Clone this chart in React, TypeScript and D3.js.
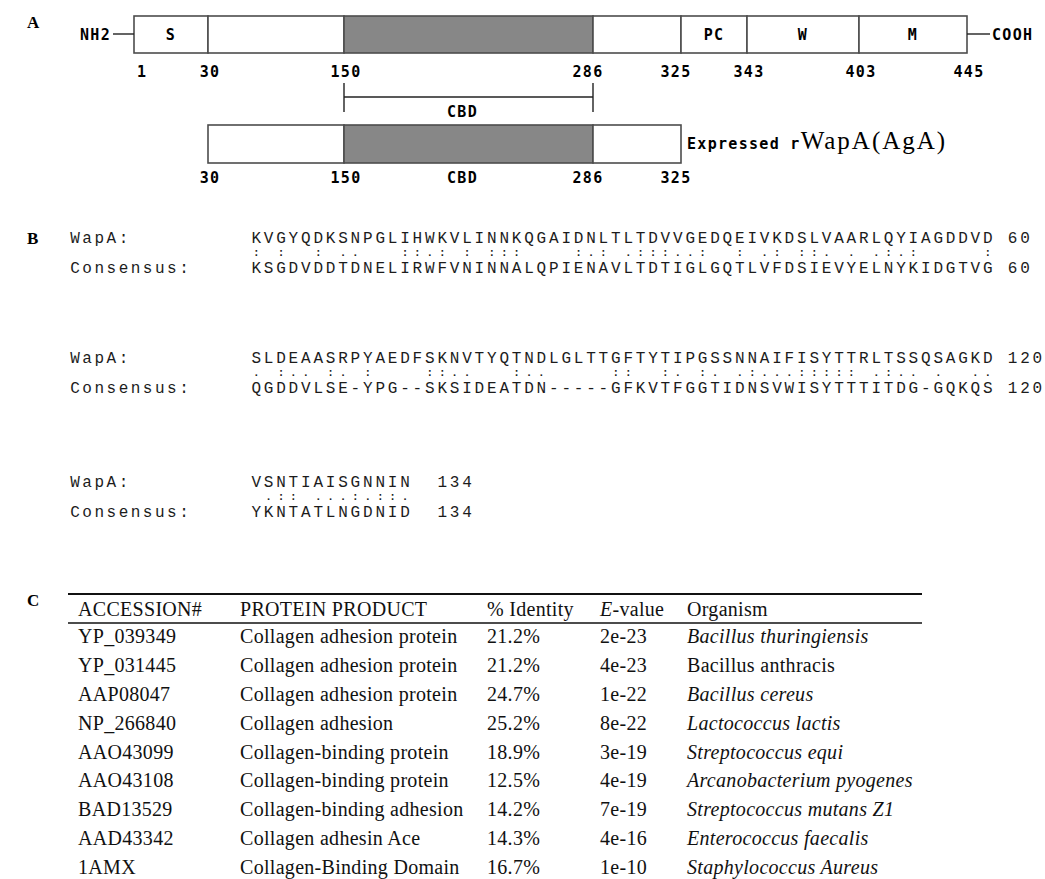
import { useEffect, useRef } from 'react'
import * as d3 from 'd3'

// ---- Panel A : domain map ----
const domainBreaks = [1, 30, 150, 286, 325, 343, 403, 445]
const segStart = [1, 30, 150, 286, 325, 343, 403]
const segEnd = [30, 150, 286, 325, 343, 403, 445]
const segLabel = ['S', '', '', '', 'PC', 'W', 'M']
const segShaded = [false, false, true, false, false, false, false]
const cbdRange = [150, 286]
const exprBreaks = [30, 150, 286, 325]

// ---- Panel B : alignment ----
const wapaRows = [
  'KVGYQDKSNPGLIHWKVLINNKQGAIDNLTLTDVVGEDQEIVKDSLVAARLQYIAGDDVD',
  'SLDEAASRPYAEDFSKNVTYQTNDLGLTTGFTYTIPGSSNNAIFISYTTRLTSSQSAGKD',
  'VSNTIAISGNNIN',
]
const matchRows = [
  ': :  : ..   ::.: : :::    :.: .:::..:  : .: ::. . .:.:     : ',
  '. :.. :. :    ::..   :..     ::  :. :. .:...::::: .:.. .  ..',
  ' .:: ...:.::.',
]
const consensusRows = [
  'KSGDVDDTDNELIRWFVNINNALQPIENAVLTDTIGLGQTLVFDSIEVYELNYKIDGTVG',
  'QGDDVLSE-YPG--SKSIDEATDN-----GFKVTFGGTIDNSVWISYTTTITDG-GQKQS',
  'YKNTATLNGDNID',
]
const rowEnds = [60, 120, 134]

// ---- Panel C : BLAST hits ----
const tableHeaders = ['ACCESSION#', 'PROTEIN PRODUCT', '% Identity', '-value', 'Organism']
const accessions = ['YP_039349', 'YP_031445', 'AAP08047', 'NP_266840', 'AAO43099', 'AAO43108', 'BAD13529', 'AAD43342', '1AMX']
const products = [
  'Collagen adhesion protein',
  'Collagen adhesion protein',
  'Collagen adhesion protein',
  'Collagen adhesion',
  'Collagen-binding protein',
  'Collagen-binding protein',
  'Collagen-binding adhesion',
  'Collagen adhesin Ace',
  'Collagen-Binding Domain',
]
const identities = ['21.2%', '21.2%', '24.7%', '25.2%', '18.9%', '12.5%', '14.2%', '14.3%', '16.7%']
const eValues = ['2e-23', '4e-23', '1e-22', '8e-22', '3e-19', '4e-19', '7e-19', '4e-16', '1e-10']
const organisms = [
  'Bacillus thuringiensis',
  'Bacillus anthracis',
  'Bacillus cereus',
  'Lactococcus lactis',
  'Streptococcus equi',
  'Arcanobacterium pyogenes',
  'Streptococcus mutans Z1',
  'Enterococcus faecalis',
  'Staphylococcus Aureus',
]
const organismItalic = [true, false, true, true, true, true, true, true, true]

const W = 1045
const H = 879

const Figure = () => {
  const svgRef = useRef(null)

  useEffect(() => {
    document.body.style.margin = '0'
    const svg = d3.select(svgRef.current)
    svg.selectAll('*').remove()

    const boldMono = "'DejaVu Sans Mono', monospace"
    const seqFont = "'Liberation Mono', 'Courier New', monospace"
    const serif = "'Liberation Serif', 'Times New Roman', serif"

    // panel letters
    svg
      .selectAll('text.panel')
      .data(['A', 'B', 'C'])
      .join('text')
      .attr('class', 'panel')
      .attr('x', 27)
      .attr('y', (d, i) => [28, 244, 606][i])
      .style('font-family', serif)
      .style('font-weight', 'bold')
      .style('font-size', '17px')
      .text((d) => d)

    // ---------- A ----------
    const x = d3
      .scaleLinear()
      .domain(domainBreaks)
      .range([134, 208, 344, 593, 681, 747, 859, 967])
    const gA = svg.append('g')
    const barTop = 16
    const barH = 37
    const exprTop = 125
    const stroke = '#4d4d4d'
    const shade = '#878787'

    const txt = (g, tx, ty, s, anchor = 'middle') =>
      g
        .append('text')
        .attr('x', tx)
        .attr('y', ty)
        .attr('text-anchor', anchor)
        .style('font-family', boldMono)
        .style('font-weight', 'bold')
        .style('font-size', '15px')
        .style('letter-spacing', '1.3px')
        .text(s)

    gA.selectAll('rect.seg')
      .data(segStart)
      .join('rect')
      .attr('class', 'seg')
      .attr('x', (d) => x(d))
      .attr('y', barTop)
      .attr('width', (d, i) => x(segEnd[i]) - x(d))
      .attr('height', barH)
      .attr('fill', (d, i) => (segShaded[i] ? shade : '#fff'))
      .attr('stroke', stroke)
      .attr('stroke-width', 1.6)

    segLabel.forEach((l, i) => {
      if (l) txt(gA, (x(segStart[i]) + x(segEnd[i])) / 2, barTop + 24, l)
    })

    // termini
    gA.append('line').attr('x1', 113).attr('x2', x(1)).attr('y1', 34).attr('y2', 34).attr('stroke', '#222').attr('stroke-width', 1.4)
    gA.append('line').attr('x1', x(445)).attr('x2', 990).attr('y1', 34).attr('y2', 34).attr('stroke', '#222').attr('stroke-width', 1.4)
    txt(gA, 111, 40, 'NH2', 'end')
    txt(gA, 992, 40, 'COOH', 'start')

    // position numbers
    domainBreaks.forEach((b, i) => {
      if (i === 0) txt(gA, x(b) + 3, 77, String(b), 'start')
      else txt(gA, x(b) + (b === 286 || b === 325 ? -5 : 2), 77, String(b))
    })

    // CBD bracket
    const gB = gA.append('g').attr('stroke', '#222').attr('stroke-width', 1.4)
    gB.append('line').attr('x1', x(cbdRange[0])).attr('x2', x(cbdRange[1])).attr('y1', 97).attr('y2', 97)
    cbdRange.forEach((c) => {
      gB.append('line').attr('x1', x(c)).attr('x2', x(c)).attr('y1', 83).attr('y2', 112)
    })
    txt(gA, (x(cbdRange[0]) + x(cbdRange[1])) / 2 - 6, 117, 'CBD')

    // expressed construct
    gA.selectAll('rect.expr')
      .data(exprBreaks.slice(0, -1))
      .join('rect')
      .attr('class', 'expr')
      .attr('x', (d) => x(d))
      .attr('y', exprTop)
      .attr('width', (d, i) => x(exprBreaks[i + 1]) - x(d))
      .attr('height', 38)
      .attr('fill', (d) => (d === cbdRange[0] ? shade : '#fff'))
      .attr('stroke', stroke)
      .attr('stroke-width', 1.6)

    exprBreaks.forEach((b) => {
      txt(gA, x(b) + (b === 286 || b === 325 ? -5 : 2), 183, String(b))
    })
    txt(gA, (x(cbdRange[0]) + x(cbdRange[1])) / 2 - 6, 183, 'CBD')

    const lab = gA
      .append('text')
      .attr('x', x(325) + 6)
      .attr('y', 149)
    lab
      .append('tspan')
      .style('font-family', boldMono)
      .style('font-weight', 'bold')
      .style('font-size', '15px')
      .style('letter-spacing', '1.3px')
      .text('Expressed r')
    lab
      .append('tspan')
      .style('font-family', serif)
      .style('font-size', '25px')
      .style('letter-spacing', '2px')
      .text('WapA(AgA)')

    // ---------- B ----------
    const gAl = svg.append('g').attr('fill', '#1c1c1c')
    const cw = 12.4
    const cx = d3.scaleLinear().domain([0, 60]).range([250, 250 + 60 * cw])
    const rowY = [243, 363, 487]

    // one glyph per column, like a monospaced alignment print-out
    const seqText = (x0, ty, s, cell = cw, size = 16, weight = 'normal') => {
      gAl
        .append('g')
        .selectAll('text')
        .data(s.split('').map((c, i) => ({ c, i })).filter((d) => d.c !== ' '))
        .join('text')
        .attr('x', (d) => x0 + (d.i + 0.5) * cell)
        .attr('y', ty)
        .attr('text-anchor', 'middle')
        .style('font-family', seqFont)
        .style('font-size', `${size}px`)
        .style('font-weight', weight)
        .text((d) => d.c)
    }

    wapaRows.forEach((seq, r) => {
      const y0 = rowY[r]
      const n = seq.length
      seqText(69, y0, 'WapA:', 12.1)
      seqText(69, y0 + 30, 'Consensus:', 12.1)
      seqText(cx(0), y0, seq)
      seqText(cx(0), y0 + 13, matchRows[r], cw, 11, 'bold')
      seqText(cx(0), y0 + 30, consensusRows[r])
      const nx = cx(n + (n < 60 ? 2 : 1))
      seqText(nx, y0, String(rowEnds[r]))
      seqText(nx, y0 + 30, String(rowEnds[r]))
    })

    // ---------- C ----------
    const gC = svg.append('g').attr('fill', '#111')
    const colX = [78, 240, 487, 600, 687]
    const tableRight = 922
    gC.append('line').attr('x1', 68).attr('x2', tableRight).attr('y1', 594).attr('y2', 594).attr('stroke', '#111').attr('stroke-width', 2)
    gC.append('line').attr('x1', 68).attr('x2', tableRight).attr('y1', 623).attr('y2', 623).attr('stroke', '#111').attr('stroke-width', 1.5)

    const cell = (tx, ty) =>
      gC
        .append('text')
        .attr('x', tx)
        .attr('y', ty)
        .style('font-family', serif)
        .style('font-size', '20px')
        .style('letter-spacing', '0.3px')

    tableHeaders.forEach((h, i) => {
      const t = cell(colX[i], 616)
      if (i === 3) {
        t.append('tspan').style('font-style', 'italic').text('E')
        t.append('tspan').text(h)
      } else t.text(h)
    })

    const ry = d3.scalePoint().domain(d3.range(accessions.length)).range([643, 874])
    accessions.forEach((a, i) => {
      const y = ry(i)
      cell(colX[0], y).text(a)
      cell(colX[1], y).text(products[i])
      cell(colX[2], y).text(identities[i])
      cell(colX[3], y).text(eValues[i])
      cell(colX[4], y)
        .style('font-style', organismItalic[i] ? 'italic' : 'normal')
        .text(organisms[i])
    })
  }, [])

  return <svg ref={svgRef} width={W} height={H} style={{ display: 'block', background: '#fff' }} />
}

export default function App() {
  return <Figure />
}
